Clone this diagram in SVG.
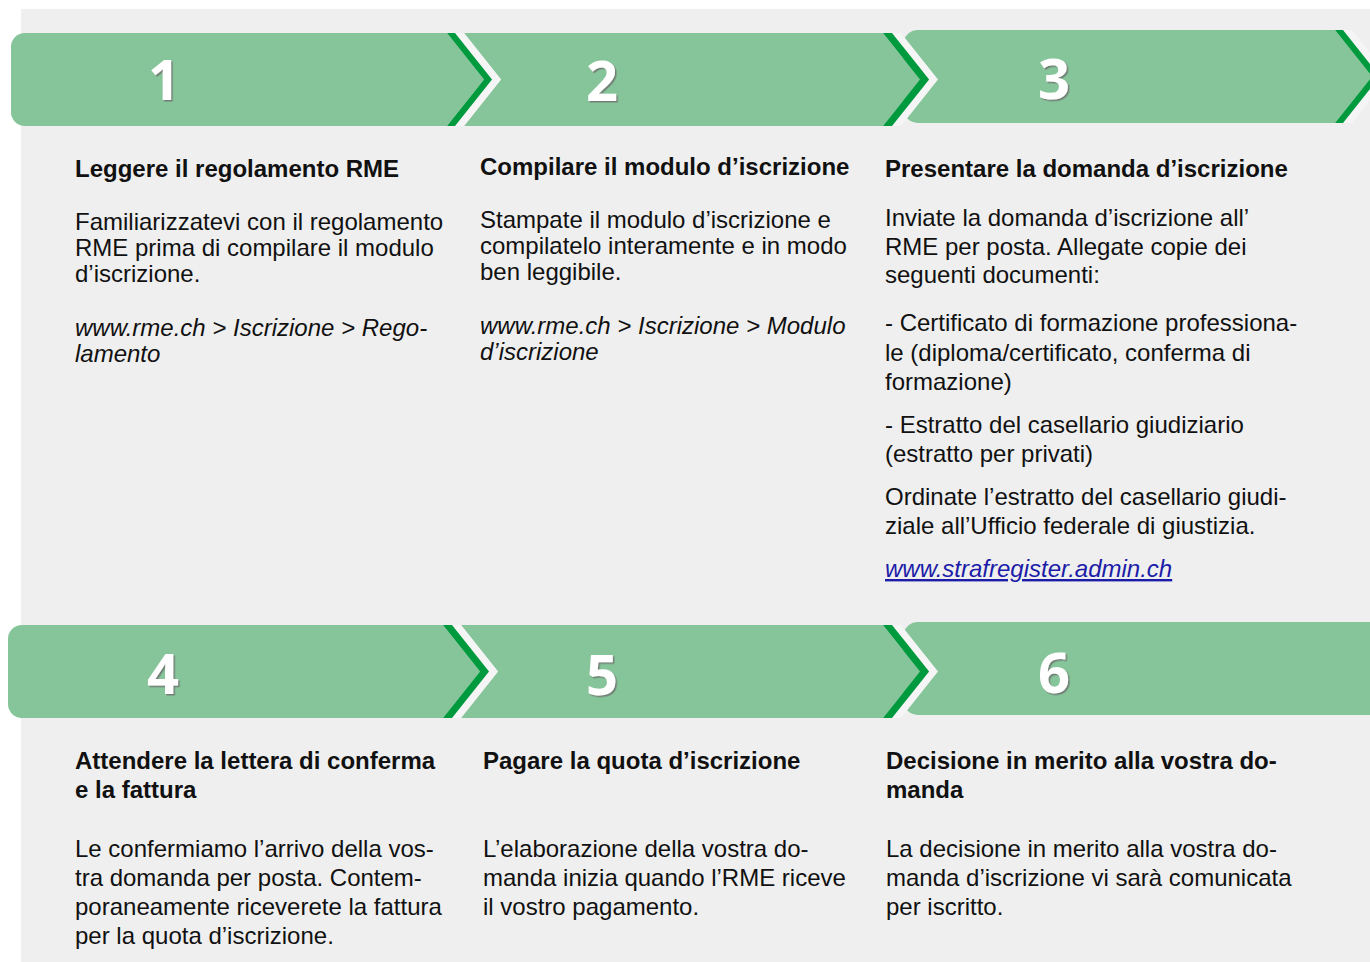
<svg xmlns="http://www.w3.org/2000/svg" width="1370" height="962" viewBox="0 0 1370 962">
<defs>
<style>
.body{fill:#86c59a}
.band{fill:#009a3e}
.light{fill:#f5f5f5}
.num{font-family:"Open Sans","DejaVu Sans",sans-serif;font-weight:700;font-size:56px;fill:#ffffff;text-anchor:middle}
.h{font-family:"Liberation Sans",Arial,sans-serif;font-weight:700;font-size:24px;fill:#111111}
.t{font-family:"Liberation Sans",Arial,sans-serif;font-size:24px;fill:#111111}
.i{font-style:italic}
.lnk{font-family:"Liberation Sans",Arial,sans-serif;font-size:24px;font-style:italic;fill:#1c1ca8;text-decoration:underline}
</style>
<filter id="sh" x="-20%" y="-20%" width="140%" height="140%">
<feDropShadow dx="1.5" dy="1.5" stdDeviation="0.6" flood-color="#6b6b6b" flood-opacity="0.8"/>
</filter>
</defs>
<rect x="0" y="0" width="1370" height="962" fill="#ffffff"/>
<rect x="21" y="9" width="1349" height="953" fill="#efefef"/>

<g id="step3">
<path class="body" d="M918,30 H1335 L1372,76.5 L1335,123 H918 A15,15 0 0 1 903,108 V45 A15,15 0 0 1 918,30 Z"/>
<text class="num" x="1054" y="99" filter="url(#sh)">3</text>
<text class="h" x="885" y="177">Presentare la domanda d’iscrizione</text>
<text class="t" x="885" y="226">Inviate la domanda d’iscrizione all’</text>
<text class="t" x="885" y="255">RME per posta. Allegate copie dei</text>
<text class="t" x="885" y="283">seguenti documenti:</text>
<text class="t" x="885" y="331">- Certificato di formazione professiona-</text>
<text class="t" x="885" y="361">le (diploma/certificato, conferma di</text>
<text class="t" x="885" y="390">formazione)</text>
<text class="t" x="885" y="433">- Estratto del casellario giudiziario</text>
<text class="t" x="885" y="462">(estratto per privati)</text>
<text class="t" x="885" y="505">Ordinate l’estratto del casellario giudi-</text>
<text class="t" x="885" y="534">ziale all’Ufficio federale di giustizia.</text>
<text class="lnk" x="885" y="577">www.strafregister.admin.ch</text>
</g>

<g id="step2">
<path class="body" d="M464,33 H883 L920,79.5 L883,126 H464 L501,79.5 Z"/>
<text class="num" x="602" y="101" filter="url(#sh)">2</text>
<text class="h" x="480" y="175">Compilare il modulo d’iscrizione</text>
<text class="t" x="480" y="228">Stampate il modulo d’iscrizione e</text>
<text class="t" x="480" y="254">compilatelo interamente e in modo</text>
<text class="t" x="480" y="280">ben leggibile.</text>
<text class="t i" x="480" y="334">www.rme.ch &gt; Iscrizione &gt; Modulo</text>
<text class="t i" x="480" y="360">d’iscrizione</text>
</g>

<g id="step1">
<path class="body" d="M25,33 H447 L484,79.5 L447,126 H25 A14,14 0 0 1 11,112 V47 A14,14 0 0 1 25,33 Z"/>
<text class="num" x="164" y="100" filter="url(#sh)">1</text>
<text class="h" x="75" y="177">Leggere il regolamento RME</text>
<text class="t" x="75" y="230">Familiarizzatevi con il regolamento</text>
<text class="t" x="75" y="256">RME prima di compilare il modulo</text>
<text class="t" x="75" y="282">d’iscrizione.</text>
<text class="t i" x="75" y="336">www.rme.ch &gt; Iscrizione &gt; Rego-</text>
<text class="t i" x="75" y="362">lamento</text>
</g>

<g id="step6">
<path class="body" d="M918,622 H1370 V715 H918 A15,15 0 0 1 903,700 V637 A15,15 0 0 1 918,622 Z"/>
<text class="num" x="1054" y="693" filter="url(#sh)">6</text>
<text class="h" x="886" y="769">Decisione in merito alla vostra do-</text>
<text class="h" x="886" y="798">manda</text>
<text class="t" x="886" y="857">La decisione in merito alla vostra do-</text>
<text class="t" x="886" y="886">manda d’iscrizione vi sarà comunicata</text>
<text class="t" x="886" y="915">per iscritto.</text>
</g>

<g id="step5">
<path class="body" d="M461,625 H883 L920,671.5 L883,718 H461 L498,671.5 Z"/>
<text class="num" x="602" y="695" filter="url(#sh)">5</text>
<text class="h" x="483" y="769">Pagare la quota d’iscrizione</text>
<text class="t" x="483" y="857">L’elaborazione della vostra do-</text>
<text class="t" x="483" y="886">manda inizia quando l’RME riceve</text>
<text class="t" x="483" y="915">il vostro pagamento.</text>
</g>

<g id="step4">
<path class="body" d="M22,625 H443 L480,671.5 L443,718 H22 A14,14 0 0 1 8,704 V639 A14,14 0 0 1 22,625 Z"/>
<text class="num" x="163" y="694" filter="url(#sh)">4</text>
<text class="h" x="75" y="769">Attendere la lettera di conferma</text>
<text class="h" x="75" y="798">e la fattura</text>
<text class="t" x="75" y="857">Le confermiamo l’arrivo della vos-</text>
<text class="t" x="75" y="886">tra domanda per posta. Contem-</text>
<text class="t" x="75" y="915">poraneamente riceverete la fattura</text>
<text class="t" x="75" y="944">per la quota d’iscrizione.</text>
</g>

<g id="connectors">
<polygon class="light" points="455,33 464,33 501,79.5 464,126 455,126 492,79.5"/>
<polygon class="band" points="447,33 455,33 492,79.5 455,126 447,126 484,79.5"/>
<polygon class="light" points="892,33 901,33 938,79.5 901,126 892,126 929,79.5"/>
<polygon class="band" points="883,33 892,33 929,79.5 892,126 883,126 920,79.5"/>
<polygon class="light" points="1343,30 1352,30 1389,76.5 1352,123 1343,123 1380,76.5"/>
<polygon class="band" points="1335,30 1343,30 1380,76.5 1343,123 1335,123 1372,76.5"/>
<polygon class="light" points="452,625 461,625 498,671.5 461,718 452,718 489,671.5"/>
<polygon class="band" points="443,625 452,625 489,671.5 452,718 443,718 480,671.5"/>
<polygon class="light" points="892,625 901,625 938,671.5 901,718 892,718 929,671.5"/>
<polygon class="band" points="883,625 892,625 929,671.5 892,718 883,718 920,671.5"/>
</g>
</svg>
